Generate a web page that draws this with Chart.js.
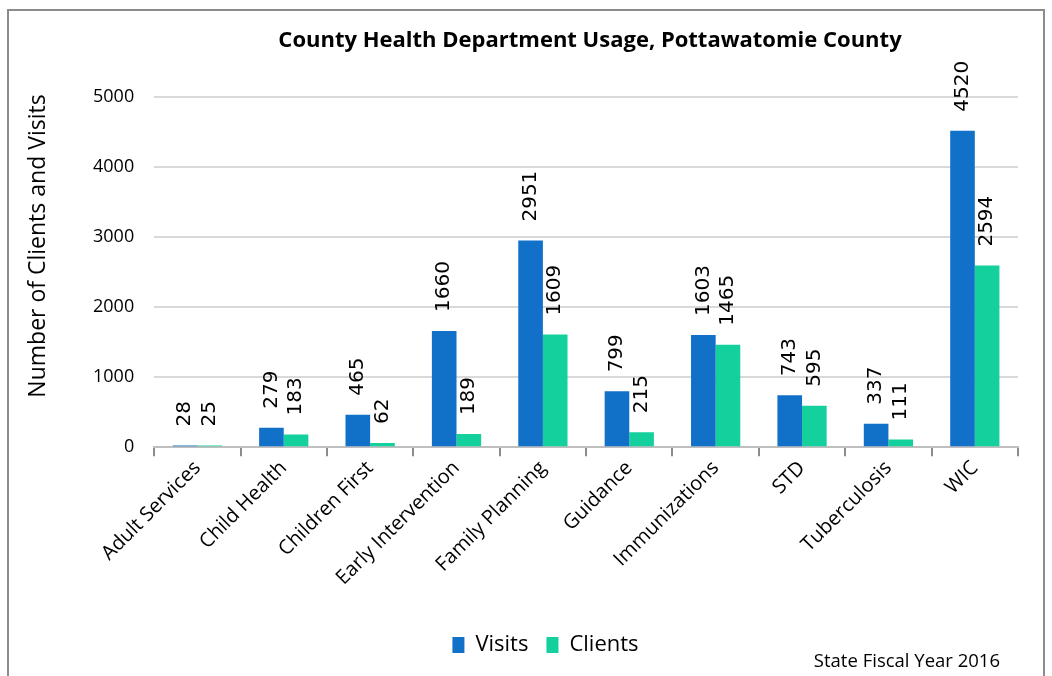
<!DOCTYPE html>
<html>
<head>
<meta charset="utf-8">
<script src="https://cdn.jsdelivr.net/npm/chart.js@4"></script>
<style>
  html, body { margin: 0; padding: 0; background: #fff; }
  #wrap { position: relative; width: 1052px; height: 676px; overflow: hidden; }
  #frame { position: absolute; left: 7px; top: 9px; width: 1038px; height: 700px; border: 2px solid #8c8c8c; box-sizing: border-box; }
  canvas { position: absolute; left: 0; top: 0; }
</style>
</head>
<body>
<div id="wrap">
  <div id="frame"></div>
  <canvas id="chart" width="1052" height="676"></canvas>
</div>
<script>
// Data
var categories = ['Adult Services', 'Child Health', 'Children First', 'Early Intervention',
    'Family Planning', 'Guidance', 'Immunizations', 'STD', 'Tuberculosis', 'WIC'];
var visits = [28, 279, 465, 1660, 2951, 799, 1603, 743, 337, 4520];
var clients = [25, 183, 62, 189, 1609, 215, 1465, 595, 111, 2594];

var titleText = 'County Health Department Usage, Pottawatomie County';
var yTitleText = 'Number of Clients and Visits';
var footText = 'State Fiscal Year 2016';

// Vertical value labels above each bar + titles + footer
var labelPlugin = {
    id: 'barLabels',
    afterDatasetsDraw: function(chart) {
        var ctx = chart.ctx;
        ctx.save();
        ctx.fillStyle = '#000';
        ctx.font = '20px "DejaVu Sans"';
        ctx.textAlign = 'left';
        ctx.textBaseline = 'middle';
        chart.data.datasets.forEach(function(ds, i) {
            chart.getDatasetMeta(i).data.forEach(function(bar, j) {
                ctx.save();
                ctx.translate(bar.x, bar.y - 19);
                ctx.rotate(-Math.PI / 2);
                ctx.fillText(String(ds.data[j]), 0, 0);
                ctx.restore();
            });
        });
        ctx.restore();
    },
    afterDraw: function(chart) {
        var ctx = chart.ctx;
        ctx.save();
        ctx.fillStyle = '#000';
        ctx.textAlign = 'center';
        ctx.textBaseline = 'middle';
        ctx.font = 'bold 22px "Open Sans"';
        ctx.fillText(titleText, 590, 41);
        ctx.save();
        ctx.translate(38, 246);
        ctx.rotate(-Math.PI / 2);
        ctx.font = '23px "Open Sans"';
        ctx.fillText(yTitleText, 0, 0);
        ctx.restore();
        ctx.font = '18.5px "Open Sans"';
        ctx.textAlign = 'right';
        ctx.fillText(footText, 1000, 662);
        ctx.restore();
    }
};

var ctx = document.getElementById('chart').getContext('2d');
var chart = new Chart(ctx, {
    type: 'bar',
    data: {
        labels: categories,
        datasets: [
            {
                label: 'Visits',
                data: visits,
                backgroundColor: '#1170c8',
                borderWidth: 0
            },
            {
                label: 'Clients',
                data: clients,
                backgroundColor: '#13d09c',
                borderWidth: 0
            }
        ]
    },
    options: {
        responsive: false,
        animation: false,
        layout: {
            padding: { left: 73, right: 34, top: 97, bottom: 10 }
        },
        datasets: {
            bar: { barPercentage: 1.0, categoryPercentage: 0.57 }
        },
        scales: {
            x: {
                afterFit: function(scale) { scale.height += 26; },
                grid: {
                    display: true,
                    drawOnChartArea: false,
                    drawTicks: true,
                    tickLength: 9,
                    color: '#8c8c8c',
                    lineWidth: 2
                },
                border: { display: true, color: '#bfbfbf', width: 2 },
                ticks: {
                    color: '#000',
                    font: { family: 'Open Sans', size: 20 },
                    minRotation: 45,
                    maxRotation: 45,
                    autoSkip: false,
                    padding: 0
                }
            },
            y: {
                min: 0,
                max: 5000,
                ticks: {
                    stepSize: 1000,
                    color: '#000',
                    font: { family: 'Open Sans', size: 18 },
                    padding: 20,
                    callback: function(v) { return String(v); }
                },
                grid: {
                    color: '#d9d9d9',
                    lineWidth: 2,
                    drawTicks: false
                },
                border: { display: false }
            }
        },
        plugins: {
            title: { display: false },
            tooltip: { enabled: false },
            legend: {
                position: 'bottom',
                labels: {
                    color: '#000',
                    font: { family: 'Open Sans', size: 22 },
                    boxWidth: 12,
                    boxHeight: 16,
                    padding: 18
                }
            }
        }
    },
    plugins: [labelPlugin]
});
</script>
</body>
</html>
